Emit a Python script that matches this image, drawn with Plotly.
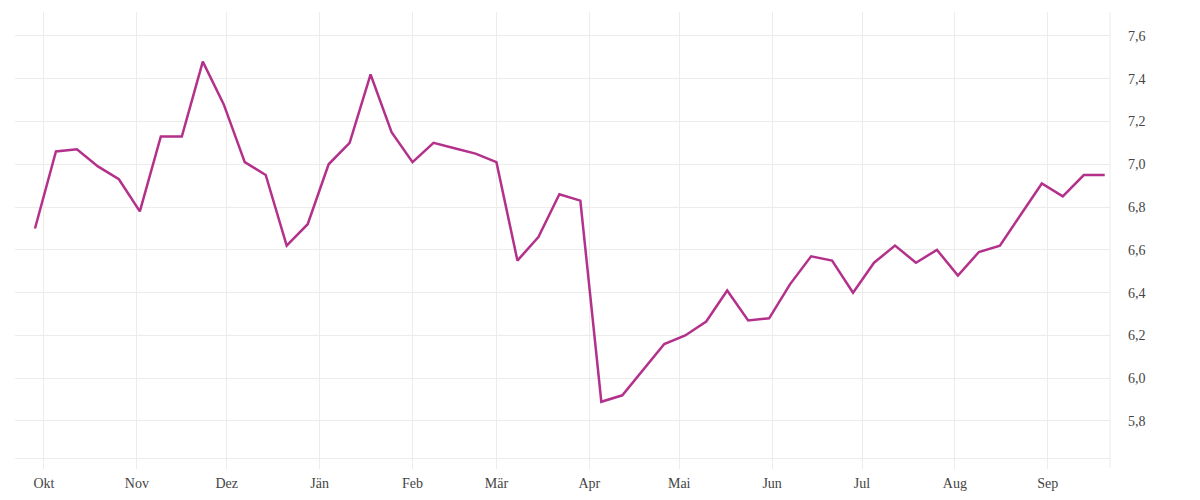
import pandas as pd
import plotly.graph_objects as go

start_date = "2022-09-28"
values = [
    6.70, 7.06, 7.07, 6.99, 6.93, 6.78, 7.13, 7.13, 7.48, 7.28,
    7.01, 6.95, 6.62, 6.72, 7.00, 7.10, 7.42, 7.15, 7.01, 7.10,
    7.075, 7.05, 7.01, 6.55, 6.66, 6.86, 6.83, 5.89, 5.92, 6.04,
    6.16, 6.20, 6.265, 6.41, 6.27, 6.28, 6.44, 6.57, 6.55, 6.40,
    6.54, 6.62, 6.54, 6.60, 6.48, 6.59, 6.62, 6.765, 6.91, 6.85,
    6.95, 6.95,
]
dates = pd.date_range(start_date, periods=len(values), freq="7D")

tick_dates = pd.date_range("2022-10-01", "2023-09-01", freq="MS")
tick_labels = ["Okt", "Nov", "Dez", "Jän", "Feb", "Mär", "Apr", "Mai", "Jun", "Jul", "Aug", "Sep"]
y_ticks = [5.8, 6.0, 6.2, 6.4, 6.6, 6.8, 7.0, 7.2, 7.4, 7.6]

grid = "#ececec"
font_family = "Liberation Serif, DejaVu Serif, serif"

fig = go.Figure()
fig.add_trace(go.Scatter(
    x=dates, y=values, mode="lines",
    line=dict(color="#b3318b", width=2.5),
    hoverinfo="x+y", showlegend=False,
))

fig.update_layout(
    width=1200, height=500,
    margin=dict(l=7, r=98, t=4, b=50),
    plot_bgcolor="white", paper_bgcolor="white",
    separators=",.",
    font=dict(family=font_family, size=14, color="#444"),
    xaxis=dict(
        range=["2022-09-21 08:00", "2023-09-21 18:00"],
        tickvals=tick_dates, ticktext=tick_labels,
        showgrid=True, gridcolor=grid, gridwidth=1,
        ticks="outside", ticklen=10, tickcolor=grid,
        showline=True, linecolor=grid, linewidth=1,
        zeroline=False, ticklabelstandoff=2,
        tickfont=dict(family=font_family, size=14, color="#444"),
    ),
    yaxis=dict(
        side="right",
        range=[5.627, 7.712],
        tickvals=y_ticks, tickformat=".1f",
        showgrid=True, gridcolor=grid, gridwidth=1,
        zeroline=False, ticks="",
        ticklabelstandoff=17,
        tickfont=dict(family=font_family, size=14, color="#444"),
    ),
    shapes=[dict(
        type="line", xref="paper", yref="paper",
        x0=1, x1=1, y0=-10 / 446, y1=1,
        line=dict(color=grid, width=1),
    )],
)

fig.write_html("out.html")
